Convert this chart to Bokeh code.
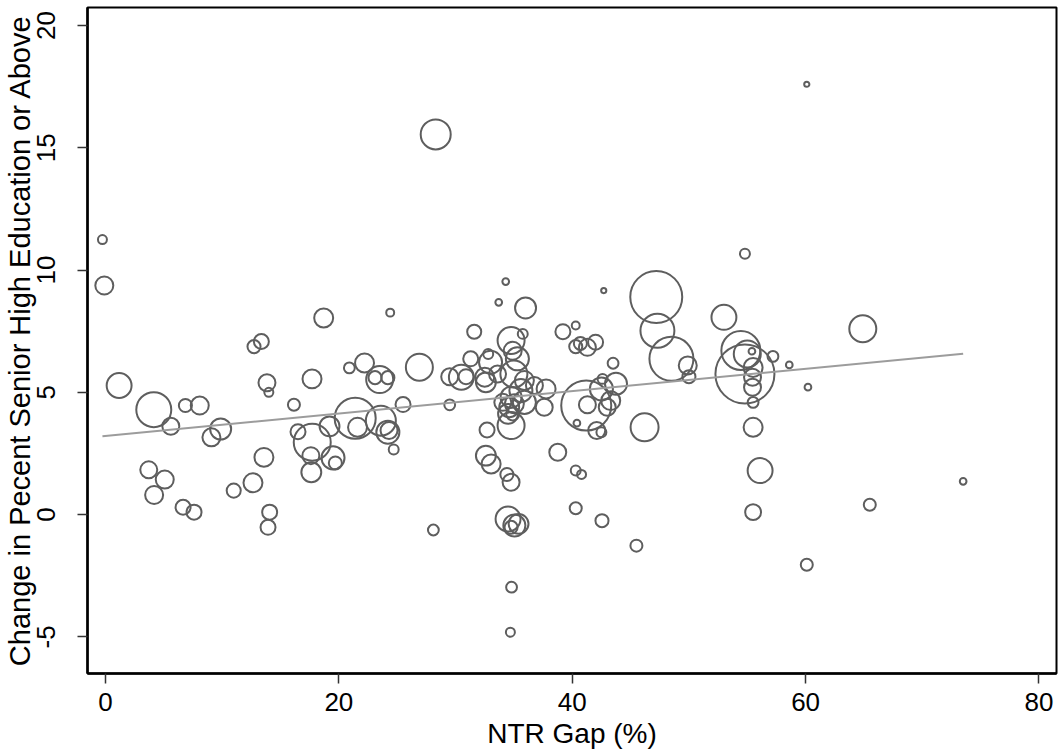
from bokeh.plotting import figure
from bokeh.models import ColumnDataSource, FixedTicker, Range1d
from bokeh.embed import file_html
from bokeh.resources import INLINE
import numpy as np

# NTR gap (%) per region
ntr_gap = [
    -0.26, -0.1, 1.17, 4.14, 5.6, 6.85, 8.08, 9.08, 9.87, 3.71,
    5.08, 4.17, 6.65, 7.59, 10.99, 12.64, 13.58, 14.07, 13.93, 12.73,
    13.36, 13.84, 14.0, 18.7, 24.4, 16.15, 17.7, 16.5, 17.72, 19.2,
    17.6, 17.64, 19.5, 19.7, 21.4, 21.6, 20.9, 22.2, 23.5, 23.1,
    24.2, 23.6, 24.2, 24.3, 24.7, 25.5, 26.9, 29.5, 31.6, 33.7,
    34.3, 36.0, 35.76, 34.76, 34.9, 35.3, 31.3, 32.8, 33.0, 29.5,
    30.5, 30.9, 32.5, 32.6, 33.6, 35.0, 35.9, 36.76, 37.76, 35.6,
    34.76, 34.05, 35.04, 34.6, 35.9, 37.6, 34.5, 34.9, 34.76, 32.7,
    32.6, 33.05, 34.4, 34.76, 34.5, 35.04, 35.4, 34.76, 28.1, 38.76,
    40.3, 40.8, 40.3, 42.55, 45.5, 46.2, 39.2, 40.3, 40.3, 40.7,
    41.3, 42.0, 42.7, 43.5, 41.2, 41.3, 42.5, 43.75, 43.3, 43.0,
    42.6, 42.1, 42.5, 40.4, 34.8, 34.7, 28.3, 60.1, 54.8, 47.2,
    47.3, 48.5, 49.9, 50.0, 53.0, 54.45, 55.0, 54.8, 55.4, 57.2,
    58.6, 60.2, 55.5, 55.45, 55.45, 55.5, 55.5, 56.1, 55.5, 64.9,
    65.5, 73.5, 60.1,
]

# Change in percent with senior high education or above
edu_change = [
    11.25, 9.37, 5.28, 4.29, 3.61, 4.46, 4.46, 3.16, 3.5, 1.83,
    1.43, 0.8, 0.3, 0.1, 0.98, 1.3, 2.34, 0.1, -0.52, 6.87,
    7.08, 5.39, 5.0, 8.04, 8.26, 4.49, 5.55, 3.39, 2.96, 3.61,
    2.41, 1.73, 2.32, 2.11, 3.94, 3.57, 6.0, 6.2, 5.52, 5.6,
    5.6, 3.84, 3.37, 3.44, 2.66, 4.5, 6.03, 4.49, 7.48, 8.68,
    9.53, 8.45, 7.39, 7.12, 6.7, 6.37, 6.37, 6.57, 6.23, 5.64,
    5.62, 5.64, 5.62, 5.41, 5.75, 5.75, 5.48, 5.28, 5.14, 5.07,
    4.8, 4.59, 4.53, 4.39, 4.59, 4.39, 4.12, 4.12, 3.64, 3.46,
    2.41, 2.07, 1.64, 1.32, -0.18, -0.45, -0.38, -0.52, -0.63, 2.55,
    1.8, 1.64, 0.26, -0.25, -1.27, 3.57, 7.48, 7.73, 6.87, 7.0,
    6.84, 7.05, 9.16, 6.19, 4.46, 4.49, 5.14, 5.35, 4.66, 4.39,
    5.55, 3.44, 3.37, 3.74, -2.97, -4.81, 15.55, 17.6, 10.67, 8.9,
    7.52, 6.37, 6.1, 5.64, 8.07, 6.71, 6.57, 5.75, 6.68, 6.47,
    6.12, 5.21, 6.02, 5.62, 5.21, 4.59, 3.57, 1.8, 0.1, 7.6,
    0.4, 1.36, -2.05,
]

# analytic weight (population) of each region
weight = [
    9, 36, 69, 136, 32, 19, 36, 36, 49, 32,
    36, 36, 25, 25, 22, 40, 40, 25, 25, 19,
    25, 32, 9, 40, 7, 16, 40, 25, 152, 44,
    32, 44, 59, 19, 187, 40, 13, 40, 81, 19,
    19, 100, 59, 32, 11, 25, 81, 13, 22, 5,
    5, 49, 11, 81, 36, 59, 25, 11, 59, 32,
    69, 25, 40, 44, 32, 81, 40, 32, 40, 59,
    49, 32, 40, 44, 59, 32, 44, 19, 81, 25,
    44, 40, 19, 32, 69, 54, 44, 19, 13, 32,
    11, 9, 16, 19, 16, 87, 25, 7, 19, 19,
    32, 25, 3, 13, 278, 32, 59, 54, 40, 32,
    11, 32, 11, 5, 13, 9, 100, 3, 11, 300,
    128, 215, 36, 19, 69, 169, 81, 387, 5, 13,
    5, 5, 40, 32, 32, 13, 40, 69, 28, 81,
    16, 5, 16,
]

# fitted line (weighted linear fit)
fit_intercept = 3.22
fit_slope = 0.0457

x_ticks = [0, 20, 40, 60, 80]
y_ticks = [-5, 0, 5, 10, 15, 20]
x_title = "NTR Gap (%)"
y_title = "Change in Pecent Senior High Education or Above"

FONT = "Liberation Sans"

p = figure(width=1059, height=755, output_backend="svg", toolbar_location=None,
           x_range=Range1d(-1.54, 81.5), y_range=Range1d(-6.5, 20.74),
           min_border_left=86, min_border_right=3, min_border_top=7,
           min_border_bottom=82)
p.xgrid.visible = False
p.ygrid.visible = False
p.outline_line_color = "black"
p.outline_line_width = 2
p.background_fill_color = "white"
p.border_fill_color = "white"

src = ColumnDataSource(dict(
    x=ntr_gap, y=edu_change,
    size=[3.0 * np.sqrt(w) for w in weight],
))
p.scatter("x", "y", size="size", source=src, marker="circle",
          fill_color=None, line_color="#5e5e5e", line_width=2)

xs = np.array([min(ntr_gap), max(ntr_gap)])
p.line(xs, fit_intercept + fit_slope * xs, line_color="#9c9c9c", line_width=2)

p.xaxis.ticker = FixedTicker(ticks=x_ticks)
p.yaxis.ticker = FixedTicker(ticks=y_ticks)
p.yaxis.major_label_overrides = {-5: "-5"}
p.xaxis.axis_label = x_title
p.yaxis.axis_label = y_title

for ax in (p.xaxis[0], p.yaxis[0]):
    ax.axis_line_color = "black"
    ax.axis_line_width = 2.5
    ax.major_tick_in = 0
    ax.major_tick_out = 10
    ax.major_tick_line_color = "#333333"
    ax.major_tick_line_width = 1.5
    ax.minor_tick_line_color = None
    ax.major_label_text_font = FONT
    ax.major_label_text_font_size = "26px"
    ax.major_label_text_color = "black"
    ax.axis_label_text_font = FONT
    ax.axis_label_text_font_style = "normal"
    ax.axis_label_text_color = "black"

p.xaxis.major_label_standoff = 9
p.xaxis.axis_label_standoff = 4
p.xaxis.axis_label_text_font_size = "28px"
p.yaxis.major_label_standoff = 22
p.yaxis.axis_label_standoff = -1
p.yaxis.axis_label_text_font_size = "29px"
p.yaxis.major_label_orientation = "vertical"

open("out.html", "w").write(file_html(p, INLINE))
